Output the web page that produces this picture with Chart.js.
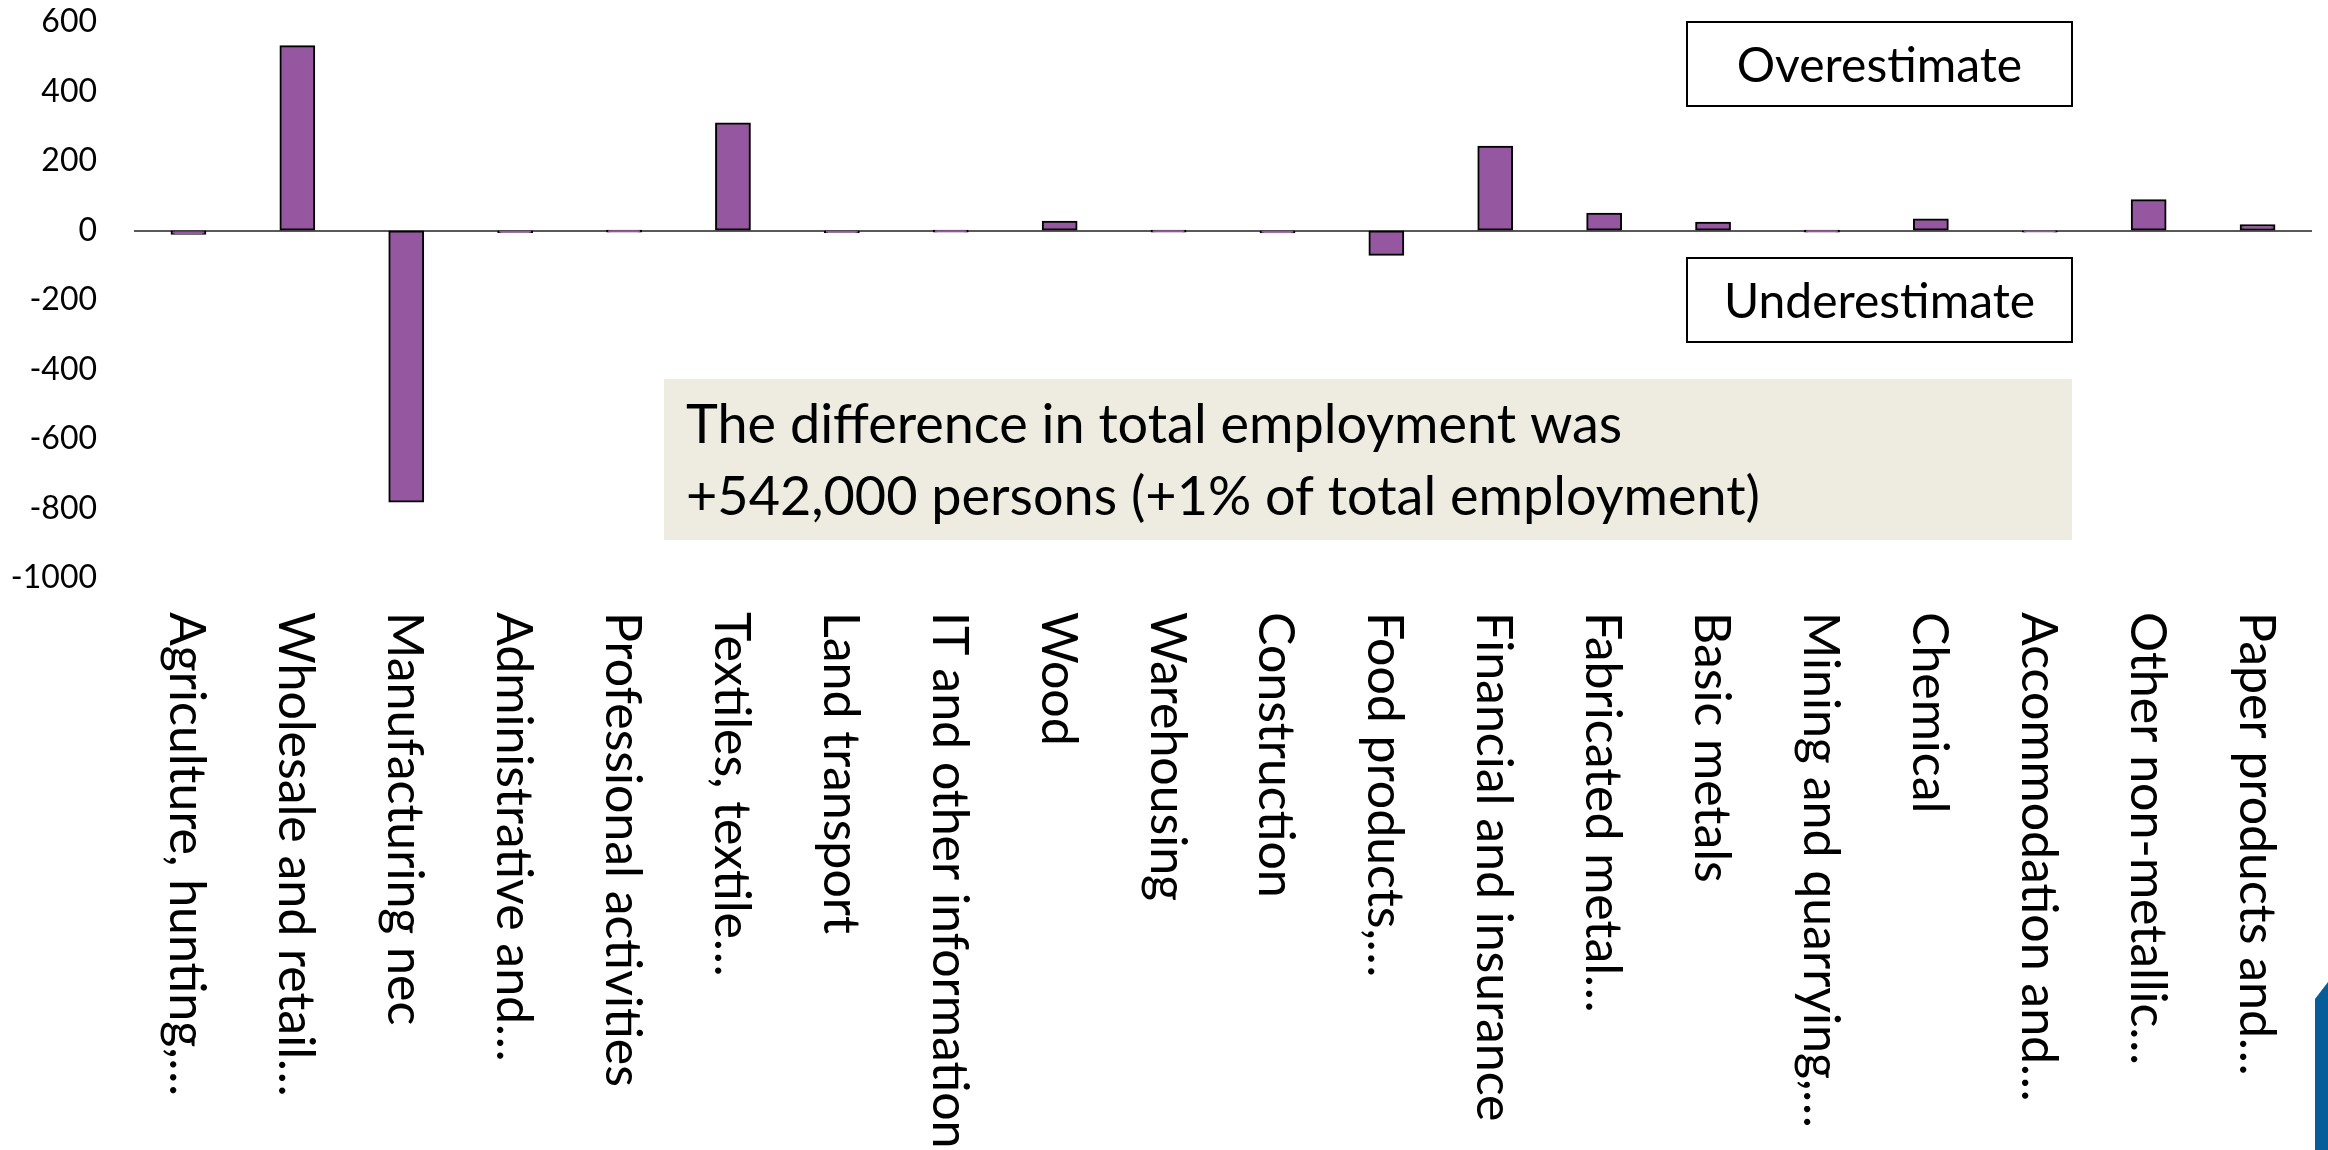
<!DOCTYPE html>
<html>
<head>
<meta charset="utf-8">
<script src="https://cdn.jsdelivr.net/npm/chart.js@4.4.0/dist/chart.umd.min.js"></script>
<style>
  html, body { margin: 0; padding: 0; background: #fff; }
</style>
</head>
<body>
<canvas id="difChart" width="2328" height="1150"></canvas>
<script>
// sectors, in the order they are plotted
const sectors = [
  "Agriculture, hunting,…", "Wholesale and retail…", "Manufacturing nec",
  "Administrative and…", "Professional activities", "Textiles, textile…",
  "Land transport", "IT and other information", "Wood", "Warehousing",
  "Construction", "Food products,…", "Financial and insurance",
  "Fabricated metal…", "Basic metals", "Mining and quarrying,…", "Chemical",
  "Accommodation and…", "Other non-metallic…", "Paper products and…"
];

// difference in employment by sector (thousand persons)
const differences = [
  -9, 530, -780, -4, -1, 308, -4, -1, 25, -1,
  -5, -70, 241, 48, 22, -1, 32, -3, 87, 15
];

const yMin = -1000;
const yMax = 600;
const yStep = 200;

const noteLines = [
  "The difference in total employment was",
  "+542,000 persons (+1% of total employment)"
];

const FONT = "Lato";

document.addEventListener("DOMContentLoaded", () => {
  const ctx = document.getElementById("difChart").getContext("2d");

  // sector names, turned to read top to bottom under each bar
  const sectorLabels = {
    id: "sectorLabels",
    afterDraw(chart) {
      const c = chart.ctx;
      const x = chart.scales.x;
      const size = 50;
      c.save();
      c.font = `${size}px ${FONT}`;
      c.fillStyle = "#000";
      c.textAlign = "left";
      c.textBaseline = "alphabetic";
      sectors.forEach((name, i) => {
        c.save();
        c.translate(x.getPixelForValue(i), 612);
        c.rotate(Math.PI / 2);
        c.fillText(name, 0, size * 0.36);
        c.restore();
      });
      c.restore();
    }
  };

  // text boxes and the corner band
  const notes = {
    id: "notes",
    afterDraw(chart) {
      const c = chart.ctx;
      c.save();

      c.fillStyle = "#eeece1";
      c.fillRect(664, 379, 1408, 161);
      c.fillStyle = "#000";
      c.font = `54px ${FONT}`;
      c.textAlign = "left";
      c.textBaseline = "alphabetic";
      c.fillText(noteLines[0], 686, 443);
      c.fillText(noteLines[1], 686, 515);

      c.font = `48px ${FONT}`;
      c.lineWidth = 2;
      c.strokeStyle = "#000";
      c.textAlign = "center";
      [["Overestimate", 22, 82], ["Underestimate", 258, 318]].forEach(([txt, top, base]) => {
        c.fillStyle = "#fff";
        c.fillRect(1687, top, 385, 84);
        c.strokeRect(1687, top, 385, 84);
        c.fillStyle = "#000";
        c.fillText(txt, 1879.5, base);
      });

      c.fillStyle = "#065d9a";
      c.beginPath();
      c.moveTo(2315, 999);
      c.lineTo(2328, 982);
      c.lineTo(2328, 1150);
      c.lineTo(2315, 1150);
      c.closePath();
      c.fill();

      c.restore();
    }
  };

  new Chart(ctx, {
    type: "bar",
    data: {
      labels: sectors,
      datasets: [{
        data: differences,
        backgroundColor: "#9557a0",
        borderColor: "#000",
        borderWidth: 2,
        borderSkipped: false,
        inflateAmount: 1,
        categoryPercentage: 1,
        barPercentage: 0.31
      }]
    },
    options: {
      responsive: false,
      animation: false,
      devicePixelRatio: 1,
      layout: { padding: { top: 22, right: 16, bottom: 572, left: 0 } },
      plugins: {
        legend: { display: false },
        tooltip: { enabled: false }
      },
      scales: {
        x: { display: false },
        y: {
          min: yMin,
          max: yMax,
          afterFit(scale) {
            scale.width = 134;
            scale.paddingTop = 0;
            scale.paddingBottom = 0;
          },
          border: { display: false },
          grid: {
            drawTicks: false,
            lineWidth: 2,
            color: c => (c.tick && c.tick.value === 0 ? "#595959" : "rgba(0,0,0,0)")
          },
          ticks: {
            stepSize: yStep,
            padding: 37,
            color: "#000",
            font: { family: FONT, size: 32 },
            callback: v => String(v)
          }
        }
      }
    },
    plugins: [sectorLabels, notes]
  });
});
</script>
</body>
</html>
